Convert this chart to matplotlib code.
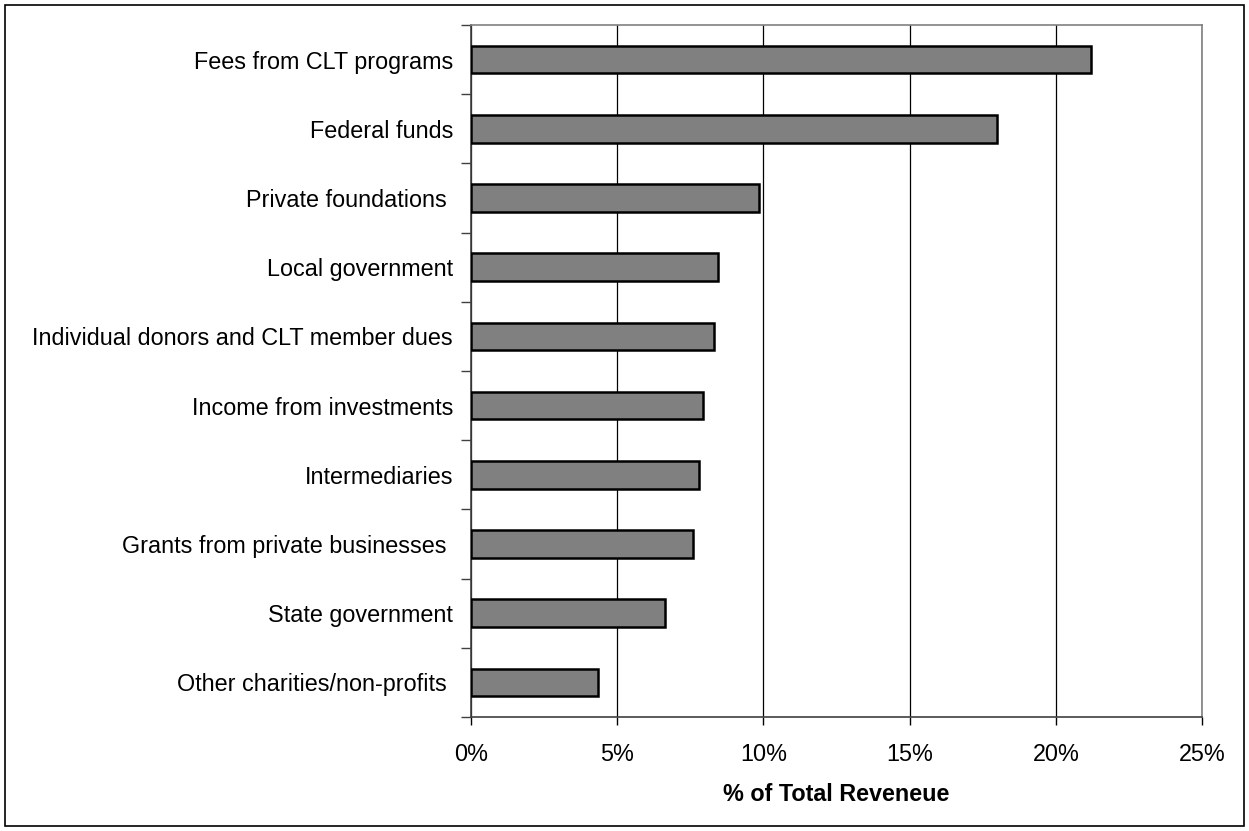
import numpy as np
import matplotlib
matplotlib.use("Agg")
from matplotlib import pyplot as plt
from matplotlib.patches import Rectangle
from matplotlib.ticker import FixedLocator, NullFormatter

plt.rcParams['font.family'] = ['Liberation Sans', 'DejaVu Sans']

# top to bottom as drawn
categories = ['Fees from CLT programs', 'Federal funds', 'Private foundations ',
              'Local government', 'Individual donors and CLT member dues',
              'Income from investments', 'Intermediaries',
              'Grants from private businesses ', 'State government',
              'Other charities/non-profits ']
shares = [21.2, 18.0, 9.85, 8.45, 8.3, 7.95, 7.8, 7.6, 6.65, 4.35]
xticks = [0, 5, 10, 15, 20, 25]
xlabels = ['0%', '5%', '10%', '15%', '20%', '25%']

fs = 16.8

fig = plt.figure(figsize=(12.49, 8.31), dpi=100)
ax = fig.add_axes([0.3771, 0.1372, 0.9624 - 0.3771, 0.9699 - 0.1372])

n = len(categories)
y = np.arange(n)
ax.barh(y, shares, height=0.4, color='#808080', edgecolor='black', linewidth=1.8, zorder=3)

ax.set_xlim(0, 25)
ax.set_ylim(n - 0.5, -0.5)

ax.set_xticks(xticks)
ax.set_xticklabels(xlabels, fontsize=fs)
ax.tick_params(axis='x', direction='out', length=6, width=1, pad=13, colors='black')
ax.grid(axis='x', color='black', linewidth=0.9, zorder=1)

# tick marks at category boundaries, labels at centers
ax.yaxis.set_major_locator(FixedLocator(np.arange(-0.5, n, 1.0)))
ax.yaxis.set_major_formatter(NullFormatter())
ax.yaxis.set_minor_locator(FixedLocator(y))
ax.set_yticklabels(categories, minor=True, fontsize=fs)
ax.tick_params(axis='y', which='major', direction='out', length=7, width=1, color='#404040')
ax.tick_params(axis='y', which='minor', length=0, pad=13)

ax.set_xlabel('% of Total Reveneue', fontsize=fs, fontweight='bold', labelpad=12)

for side in ['top', 'right']:
    ax.spines[side].set_color('#808080')
    ax.spines[side].set_linewidth(1.2)
ax.spines['left'].set_color('#404040')
ax.spines['bottom'].set_color('#404040')
ax.spines['left'].set_linewidth(1.2)
ax.spines['bottom'].set_linewidth(1.2)

fig.patches.append(Rectangle((5 / 1249, 5 / 831), 1 - 10 / 1249, 1 - 10 / 831,
                             transform=fig.transFigure, fill=False,
                             edgecolor='black', linewidth=1.2))

fig.savefig('out.png', dpi=100)
